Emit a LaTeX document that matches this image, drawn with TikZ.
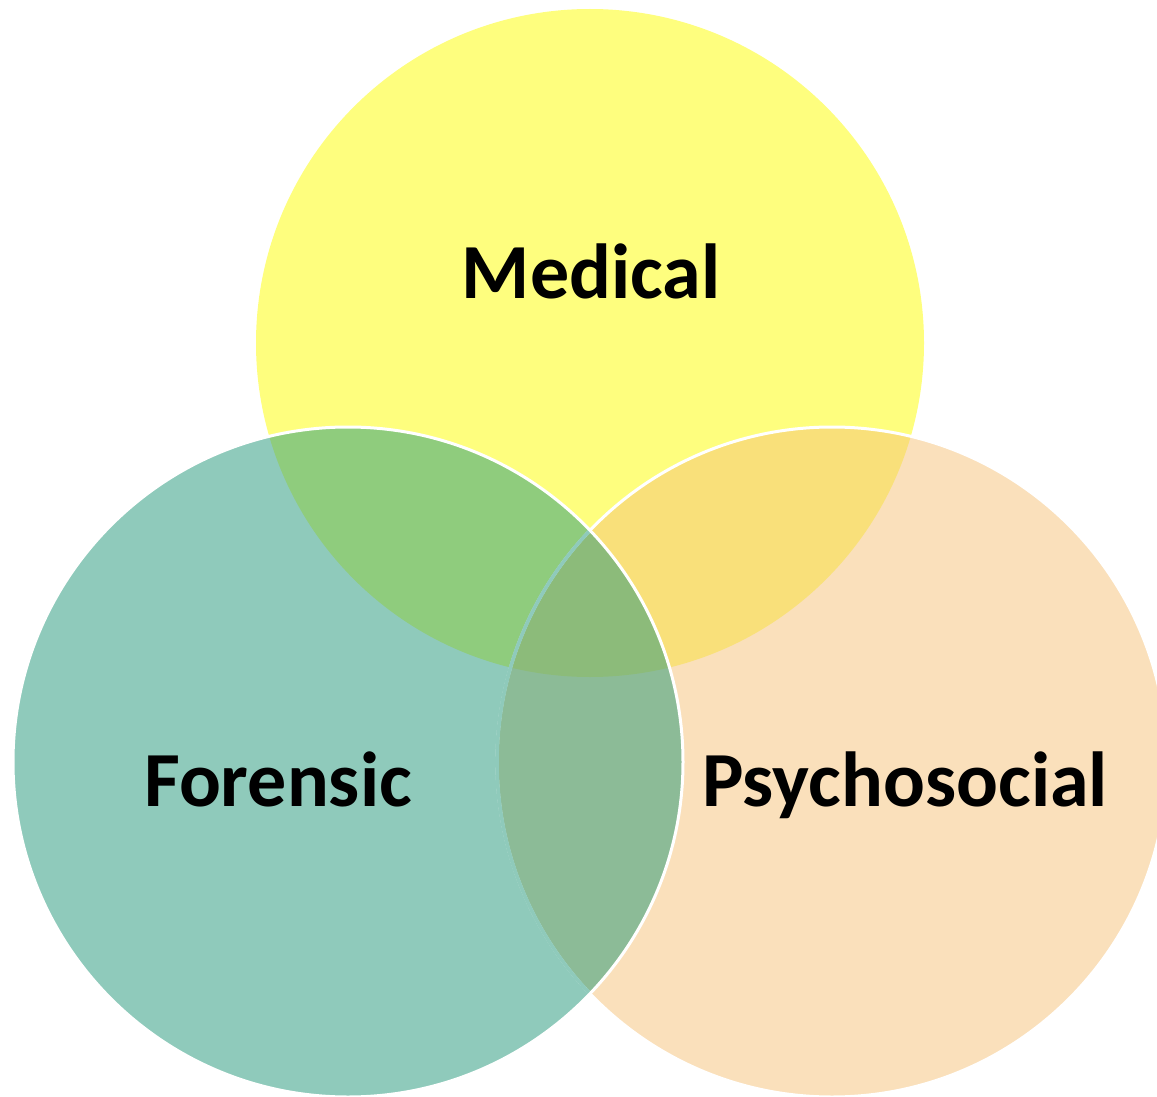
\documentclass[tikz,border=0pt]{standalone}
\usepackage{fontspec}
\setmainfont{Carlito}
\definecolor{cMed}{HTML}{FEFE7E}
\definecolor{cFor}{HTML}{8FCABB}
\definecolor{cPsy}{HTML}{FAE0BB}
\definecolor{cMF}{HTML}{8FCC7D}
\definecolor{cMP}{HTML}{F9E07A}
\definecolor{cFP}{HTML}{8CBB97}
\definecolor{cMFP}{HTML}{8CBB7A}
\definecolor{cLine}{HTML}{8FCABB}
\tikzset{
  lbl/.style={anchor=base, text=black, font=\bfseries\fontsize{78}{94}\selectfont, inner sep=0pt},
  rim/.style={draw=white, line width=3pt}
}
\begin{document}
\begin{tikzpicture}[x=1pt,y=-1pt]
\useasboundingbox (0,0) rectangle (1157,1097);
% base circles
\fill[cMed] (590,343) circle [radius=334];
\fill[cPsy] (832,762) circle [radius=335];
\fill[cFor] (348,762) circle [radius=335];
% pairwise overlaps
\begin{scope}
  \clip (590,343) circle [radius=334];
  \fill[cMF] (348,762) circle [radius=335];
\end{scope}
\begin{scope}
  \clip (590,343) circle [radius=334];
  \fill[cMP] (832,762) circle [radius=335];
\end{scope}
\begin{scope}
  \clip (348,762) circle [radius=335];
  \fill[cFP] (832,762) circle [radius=335];
\end{scope}
% triple overlap
\begin{scope}
  \clip (590,343) circle [radius=334];
  \clip (348,762) circle [radius=335];
  \fill[cMFP] (832,762) circle [radius=335];
\end{scope}
% rims
\draw[rim] (832,762) circle [radius=335];
\begin{scope}
  \clip (348,762) circle [radius=335];
  \draw[draw=cLine, line width=3.6pt] (832,762) circle [radius=335];
\end{scope}
\draw[rim] (348,762) circle [radius=335];
% labels
\node[lbl] (med) at (591,298) {Medical};
\node[lbl] (for) at (278,806) {Forensic};
\node[lbl] (psy) at (905,806) {Psychosocial};
\end{tikzpicture}
\end{document}
